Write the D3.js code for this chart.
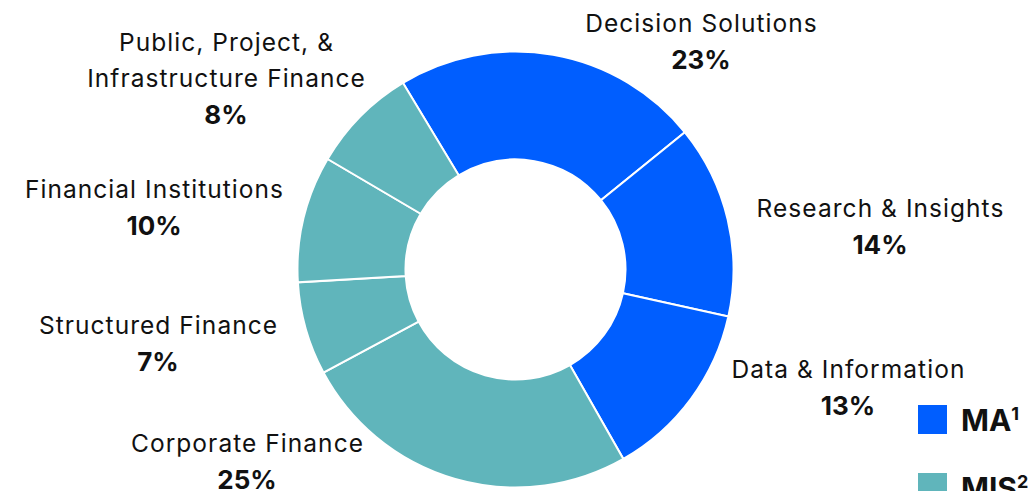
<!DOCTYPE html>
<html>
<head>
<meta charset="utf-8">
<script src="https://cdn.jsdelivr.net/npm/d3@7"></script>
<style>
  html, body { margin: 0; padding: 0; background: #fff; }
  svg { display: block; }
  text { font-family: Inter, "Noto Sans", sans-serif; fill: #111; }
</style>
</head>
<body>
<svg id="chart" width="1030" height="491"></svg>
<script>
// Data (clockwise, starting at Decision Solutions)
const categories = ["Decision Solutions", "Research & Insights", "Data & Information",
  "Corporate Finance", "Structured Finance", "Financial Institutions",
  "Public, Project, & Infrastructure Finance"];
const shares = [22.8, 14.3, 13.3, 25.4, 6.9, 9.4, 7.9];
const pctLabels = ["23%", "14%", "13%", "25%", "7%", "10%", "8%"];
const segments = ["MA", "MA", "MA", "MIS", "MIS", "MIS", "MIS"];
const nameLines = [["Decision Solutions"], ["Research & Insights"], ["Data & Information"],
  ["Corporate Finance"], ["Structured Finance"], ["Financial Institutions"],
  ["Public, Project, &", "Infrastructure Finance"]];
const legendKeys = ["MA", "MIS"];
const legendSup = ["1", "2"];

const svg = d3.select("#chart");
const cx = 515.5, cy = 269.5, rOuter = 218, rInner = 110;
const startDeg = -31.1;

const color = d3.scaleOrdinal().domain(legendKeys).range(["#005EFF", "#60B5BB"]);

const data = categories.map((c, i) => ({ name: c, value: shares[i], label: pctLabels[i], seg: segments[i], lines: nameLines[i] }));

const pie = d3.pie().sort(null).value(d => d.value)
  .startAngle(startDeg * Math.PI / 180)
  .endAngle(startDeg * Math.PI / 180 + 2 * Math.PI);
const arcs = pie(data);
const arc = d3.arc().innerRadius(rInner).outerRadius(rOuter);

const g = svg.append("g").attr("transform", `translate(${cx},${cy})`);
g.selectAll("path").data(arcs).enter().append("path")
  .attr("d", arc)
  .attr("fill", d => color(d.data.seg))
  .attr("stroke", "#fff")
  .attr("stroke-width", 2);

// Label positions (centre x, baseline of first line)
const labelPos = [
  [701, 32], [880, 217], [848, 378], [247, 452], [158, 334], [154, 198], [226, 51]
];
const lineH = 36;
data.forEach((d, i) => {
  const [x, y] = labelPos[i];
  const t = svg.append("text").attr("text-anchor", "middle");
  d.lines.forEach((ln, k) => {
    t.append("tspan").attr("x", x + 0.5).attr("y", y + k * lineH)
      .attr("font-size", 24.5).attr("letter-spacing", 1.05).attr("font-weight", 400).text(ln);
  });
  t.append("tspan").attr("x", x).attr("y", y + d.lines.length * lineH + 0.5)
    .attr("font-size", 26).attr("font-weight", 700).text(d.label);
});

// Legend
const legY = [405, 473];
legendKeys.forEach((k, i) => {
  svg.append("rect").attr("x", 918).attr("y", legY[i]).attr("width", 29).attr("height", 29)
    .attr("fill", color(k));
  const t = svg.append("text").attr("x", 961).attr("y", legY[i] + 26)
    .attr("font-size", 30).attr("font-weight", 700);
  t.append("tspan").text(k);
  t.append("tspan").attr("font-size", 18).attr("dy", -11).text(legendSup[i]);
});
</script>
</body>
</html>
